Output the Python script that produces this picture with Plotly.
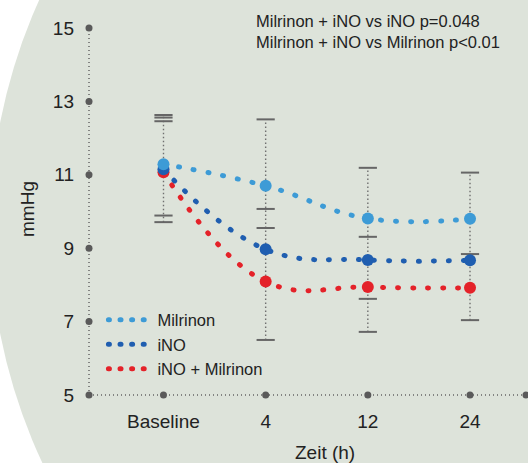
import plotly.graph_objects as go

# ---------------- data ----------------
categories = ["Baseline", "4", "12", "24"]
x_pos = [1, 2, 3, 4]

milrinon = [11.29, 10.70, 9.81, 9.80]
ino = [11.15, 8.97, 8.68, 8.67]
ino_milrinon = [11.07, 8.09, 7.94, 7.92]

# error-bar ends per series (None = not drawn)
milrinon_hi = [12.63, 12.51, 11.19, 11.06]
milrinon_lo = [9.89, 10.07, 9.31, 8.84]
ino_hi = [12.56, 9.55, None, None]
ino_lo = [9.71, None, 7.62, 7.04]
ino_milrinon_hi = [12.46, None, None, None]
ino_milrinon_lo = [None, 6.50, 6.72, None]

y_ticks = [5, 7, 9, 11, 13, 15]

# ---------------- style ----------------
C_MIL = "#3d9bd6"
C_INO = "#1f5eb0"
C_RED = "#e42229"
C_AX = "#5a5a5a"
BG = "#dde3da"
TXT = "#222222"
FONT = "Liberation Sans, Arial, sans-serif"

X_RANGE = [0.271, 4.548]
Y_RANGE = [5, 15]

fig = go.Figure()

# error bars: dotted vertical span + caps
all_bounds = [milrinon_hi, milrinon_lo, ino_hi, ino_lo, ino_milrinon_hi, ino_milrinon_lo]
ex, ey, cx, cy = [], [], [], []
for i, xv in enumerate(x_pos):
    vals = [b[i] for b in all_bounds if b[i] is not None]
    ex += [xv, xv, None]
    ey += [min(vals), max(vals), None]
    cx += [xv] * len(vals)
    cy += vals
fig.add_trace(go.Scatter(x=ex, y=ey, mode="lines", showlegend=False, hoverinfo="skip",
                         line=dict(color="#707070", width=1.4, dash="1.5px,2.5px")))
fig.add_trace(go.Scatter(x=cx, y=cy, mode="markers", showlegend=False, hoverinfo="skip",
                         marker=dict(symbol="line-ew", size=13,
                                     line=dict(color="#666666", width=2))))

# series (red first so light blue sits on top)
for name, vals, col in [("iNO + Milrinon", ino_milrinon, C_RED),
                        ("iNO", ino, C_INO),
                        ("Milrinon", milrinon, C_MIL)]:
    fig.add_trace(go.Scatter(x=x_pos, y=vals, mode="lines+markers", name=name,
                             showlegend=False, cliponaxis=False,
                             line=dict(color=col, width=5, dash="1px,14px",
                                       shape="spline", smoothing=1.2),
                             marker=dict(color=col, size=12)))

# legend-only traces
for name, col in [("Milrinon", C_MIL), ("iNO", C_INO), ("iNO + Milrinon", C_RED)]:
    fig.add_trace(go.Scatter(x=[None], y=[None], mode="lines", name=name,
                             line=dict(color=col, width=5, dash="1px,10.6px")))

# axis dots (tick markers)
ax_x = [X_RANGE[0]] * len(y_ticks) + x_pos + [X_RANGE[1]]
ax_y = y_ticks + [Y_RANGE[0]] * len(x_pos) + [Y_RANGE[0]]
fig.add_trace(go.Scatter(x=ax_x, y=ax_y, mode="markers", showlegend=False,
                         hoverinfo="skip", cliponaxis=False,
                         marker=dict(color=C_AX, size=7)))

shapes = [
    dict(type="circle", xref="paper", yref="paper", x0=-0.2265, x1=2.304,
         y0=-1.052, y1=1.962, fillcolor=BG, line=dict(width=0), layer="below"),
    dict(type="line", xref="paper", yref="paper", x0=0, x1=0, y0=0, y1=1,
         line=dict(color="#666666", width=1.5, dash="1px,3px"), layer="below"),
    dict(type="line", xref="paper", yref="paper", x0=0, x1=1, y0=0, y1=0,
         line=dict(color="#666666", width=1.5, dash="1px,3px"), layer="below"),
]

annotations = [
    dict(text="Milrinon + iNO vs iNO p=0.048<br>Milrinon + iNO vs Milrinon p<0.01",
         xref="paper", yref="paper", x=0.3776, y=0.991, xanchor="left", yanchor="middle",
         align="left", showarrow=False, font=dict(size=16.5, color=TXT, family=FONT)),
    dict(text="mmHg", xref="paper", yref="paper", x=-0.1419, y=0.5068,
         xanchor="center", yanchor="middle", textangle=-90, showarrow=False,
         font=dict(size=19, color=TXT, family=FONT)),
    dict(text="Zeit (h)", xref="paper", yref="paper", x=0.540, y=-0.158,
         xanchor="center", yanchor="middle", showarrow=False,
         font=dict(size=19, color=TXT, family=FONT)),
]

fig.update_layout(
    width=528, height=463,
    margin=dict(l=89, r=2, t=28, b=68),
    paper_bgcolor="white", plot_bgcolor="rgba(0,0,0,0)",
    font=dict(family=FONT, color=TXT),
    shapes=shapes, annotations=annotations,
    showlegend=True,
    legend=dict(x=0.033, y=0.252, xanchor="left", yanchor="top",
                bgcolor="rgba(0,0,0,0)", font=dict(size=16.5, color=TXT, family=FONT),
                tracegroupgap=0, itemwidth=44),
    xaxis=dict(range=X_RANGE, tickvals=x_pos, ticktext=categories, ticks="",
               showgrid=False, zeroline=False, showline=False,
               tickfont=dict(size=19, color=TXT), ticklabelstandoff=13),
    yaxis=dict(range=Y_RANGE, tickvals=y_ticks, ticks="",
               showgrid=False, zeroline=False, showline=False,
               tickfont=dict(size=19, color=TXT), ticklabelstandoff=14),
)

post = """
document.body.style.margin='0';
var gd = document.getElementById('{plot_id}');
function rc(){
  gd.querySelectorAll('path.js-line').forEach(function(p){
    if (parseFloat(p.style.strokeWidth) >= 4) { p.style.strokeLinecap = 'round'; }
  });
}
rc(); setTimeout(rc, 30); setTimeout(rc, 300);
if (gd.on) { gd.on('plotly_afterplot', rc); }
"""

fig.write_html("out.html", post_script=post, config={"displayModeBar": False})
